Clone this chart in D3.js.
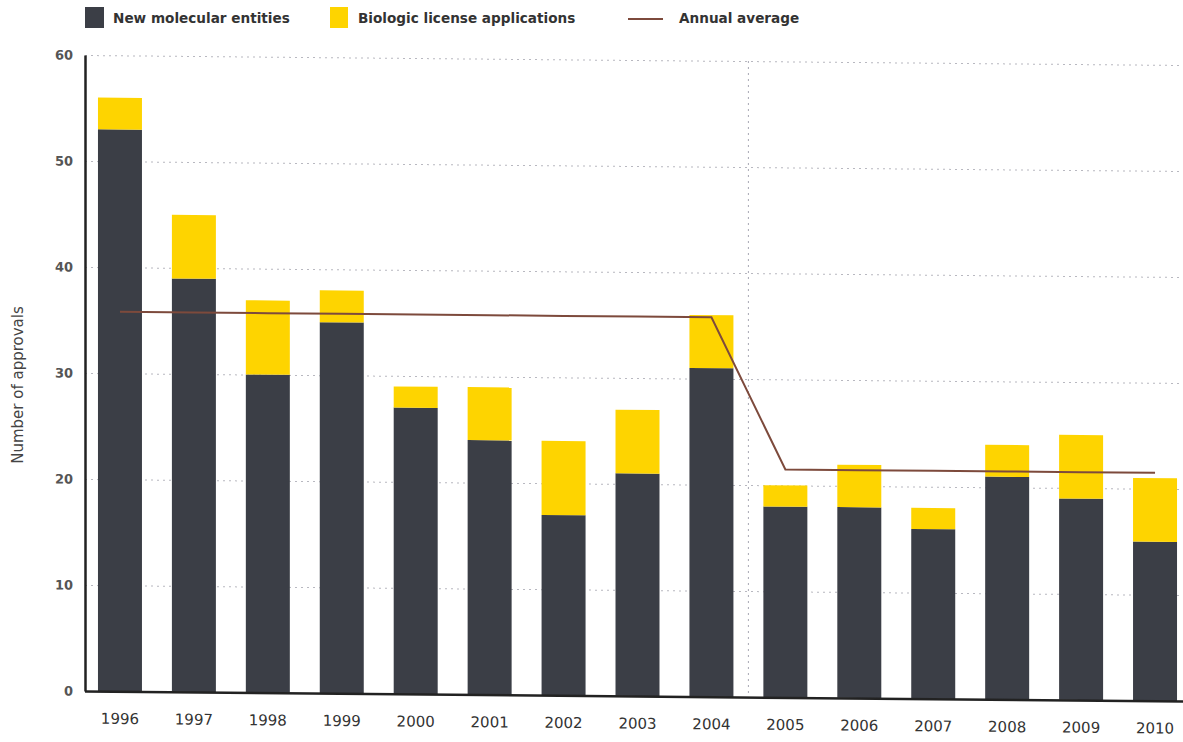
<!DOCTYPE html>
<html>
<head>
<meta charset="utf-8">
<script src="https://cdn.jsdelivr.net/npm/d3@7"></script>
<style>
  html, body { margin: 0; padding: 0; background: #fff; }
  svg { display: block; }
</style>
</head>
<body>
<svg id="chart" width="1183" height="742"></svg>
<script>
// ---- data ----
const years = ["1996","1997","1998","1999","2000","2001","2002","2003","2004","2005","2006","2007","2008","2009","2010"];
const nme   = [53, 39, 30, 35, 27, 24, 17, 21, 31, 18, 18, 16, 21, 19, 15];
const bla   = [ 3,  6,  7,  3,  2,  5,  7,  6,  5,  2,  4,  2,  3,  6,  6];
const annualAverage = [35.8, 35.8, 35.8, 35.8, 35.8, 35.8, 35.8, 35.8, 35.8, 21.5, 21.5, 21.5, 21.5, 21.5, 21.5];
const yTicks = [0, 10, 20, 30, 40, 50, 60];
const legendLabels = ["New molecular entities", "Biologic license applications", "Annual average"];
const axisTitle = "Number of approvals";

// ---- layout ----
const svg = d3.select("#chart");
const plotLeft = 85, plotTop = 55, plotBottom = 691;
const colNME = "#3b3e46", colBLA = "#fed400", colAvg = "#7d4a3c";

const x = d3.scaleBand().domain(years).range([83, 1192]).paddingInner(0.405).paddingOuter(0.2025);
const y = d3.scaleLinear().domain([0, 60]).range([plotBottom, plotTop]);

// slight skew to mimic the scanned reference
const skew = Math.atan(10 / 1098) * 180 / Math.PI;
const g = svg.append("g").attr("transform", `translate(${plotLeft},${plotBottom}) skewY(${skew}) translate(${-plotLeft},${-plotBottom})`);

// gridlines
const grid = g.append("g")
  .attr("transform", `translate(${plotLeft},0)`)
  .call(d3.axisLeft(y).tickValues(yTicks.filter(d => d > 0)).tickSize(-(1183 - plotLeft)).tickFormat(""));
grid.select(".domain").remove();
grid.selectAll("line").attr("stroke", "#b8b8c0").attr("stroke-width", 1).attr("stroke-dasharray", "2,4");

// vertical divider between 2004 and 2005
const divX = (x("2004") + x.bandwidth() + x("2005")) / 2;
g.append("line").attr("x1", divX).attr("x2", divX).attr("y1", y(60)).attr("y2", y(0))
  .attr("stroke", "#a8a8b4").attr("stroke-width", 1).attr("stroke-dasharray", "2,4");

// bars
const rows = years.map((yr, i) => ({ yr, nme: nme[i], bla: bla[i] }));
g.selectAll("rect.nme").data(rows).join("rect").attr("class", "nme")
  .attr("x", d => x(d.yr)).attr("width", x.bandwidth())
  .attr("y", d => y(d.nme)).attr("height", d => y(0) - y(d.nme))
  .attr("fill", colNME);
g.selectAll("rect.bla").data(rows).join("rect").attr("class", "bla")
  .attr("x", d => x(d.yr)).attr("width", x.bandwidth())
  .attr("y", d => y(d.nme + d.bla)).attr("height", d => y(d.nme) - y(d.nme + d.bla))
  .attr("fill", colBLA);

// annual average line
const line = d3.line().x((d, i) => x(years[i]) + x.bandwidth() / 2).y(d => y(d));
g.append("path").datum(annualAverage).attr("d", line)
  .attr("fill", "none").attr("stroke", colAvg).attr("stroke-width", 2);

// y axis
const ya = g.append("g").attr("transform", `translate(${plotLeft},0)`)
  .call(d3.axisLeft(y).tickValues(yTicks).tickSize(0).tickPadding(12));
ya.select(".domain").attr("stroke", "#222").attr("stroke-width", 2.5);
ya.selectAll("text").attr("font-family", "DejaVu Sans").attr("font-size", 13).attr("font-weight", "bold").attr("fill", "#555");

// x axis
const xa = g.append("g").attr("transform", `translate(0,${plotBottom})`)
  .call(d3.axisBottom(x).tickSize(0).tickPadding(22));
xa.select(".domain").attr("d", `M${plotLeft},0.5H1183`).attr("stroke", "#222").attr("stroke-width", 2.5);
xa.selectAll("text").attr("font-family", "DejaVu Sans").attr("font-size", 15).attr("fill", "#333");

// y axis title
svg.append("text").attr("transform", "translate(23,385) rotate(-90)")
  .attr("text-anchor", "middle").attr("font-family", "DejaVu Sans").attr("font-size", 15)
  .attr("fill", "#444").text(axisTitle);

// legend
const lg = svg.append("g").attr("font-family", "DejaVu Sans").attr("font-size", 13.6).attr("font-weight", "bold").attr("fill", "#333");
lg.append("rect").attr("x", 85).attr("y", 7).attr("width", 19).attr("height", 21).attr("fill", colNME);
lg.append("text").attr("x", 113).attr("y", 23).text(legendLabels[0]);
lg.append("rect").attr("x", 330).attr("y", 7).attr("width", 18).attr("height", 21).attr("fill", colBLA);
lg.append("text").attr("x", 358).attr("y", 23).text(legendLabels[1]);
lg.append("line").attr("x1", 628).attr("x2", 663).attr("y1", 19).attr("y2", 19).attr("stroke", colAvg).attr("stroke-width", 2);
lg.append("text").attr("x", 679).attr("y", 23).text(legendLabels[2]);
</script>
</body>
</html>
